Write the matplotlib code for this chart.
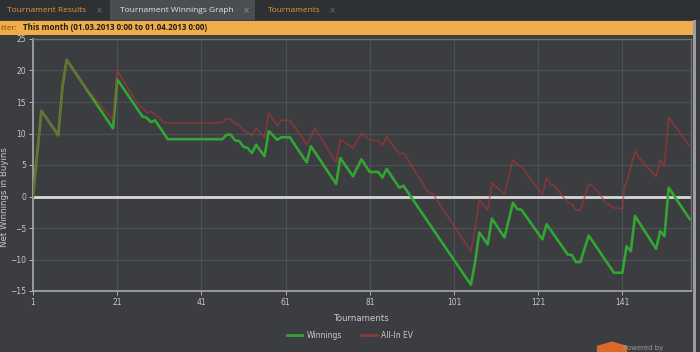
import matplotlib
matplotlib.use("Agg")
import matplotlib.pyplot as plt
from matplotlib.lines import Line2D
from matplotlib.patches import Rectangle, RegularPolygon

# vertices (tournament number, net buy-ins)
win_t = [1, 3, 7, 8, 9, 20, 21, 27, 28, 29, 30, 33, 46, 47, 48, 49, 50, 51, 52,
         53, 54, 56, 57, 59, 60, 62, 65, 66, 67, 73, 74, 77, 79, 81, 83, 84, 85,
         88, 89, 105, 106, 107, 109, 110, 113, 115, 116, 117, 122, 123, 128, 129,
         130, 131, 133, 139, 141, 142, 143, 144, 149, 150, 151, 152, 157]
win_v = [0, 13.6, 9.7, 17.5, 21.7, 10.8, 18.6, 12.7, 12.5, 11.8, 12.1, 9.1, 9.1,
         9.8, 9.8, 8.9, 8.8, 7.9, 7.7, 6.9, 8.2, 6.4, 10.4, 9.0, 9.4, 9.4, 6.4,
         5.4, 8.0, 2.0, 6.1, 3.2, 5.9, 3.9, 3.9, 3.0, 4.4, 1.4, 1.7, -14.0, -10.5,
         -5.7, -7.6, -3.5, -6.5, -1.0, -2.0, -2.1, -6.8, -4.4, -9.2, -9.3, -10.4,
         -10.4, -6.2, -12.1, -12.1, -7.9, -8.7, -3.1, -8.3, -5.5, -6.3, 1.4, -3.6]

ev_t = [1, 3, 7, 8, 9, 13, 20, 21, 26, 27, 28, 29, 30, 31, 32, 33, 46, 47, 48, 49,
        50, 51, 52, 53, 54, 56, 57, 59, 60, 62, 65, 66, 68, 73, 74, 77, 79, 81, 83,
        84, 85, 88, 89, 95, 96, 105, 106, 107, 109, 110, 113, 115, 116, 117, 122,
        123, 124, 125, 128, 129, 130, 131, 133, 134, 136, 137, 139, 141, 141.5, 142,
        144, 145, 149, 150, 151, 152, 157]
ev_v = [0, 13.6, 9.7, 17.5, 21.7, 17.7, 12.2, 20.0, 14.6, 14.1, 13.3, 13.5, 13.0,
        12.5, 11.8, 11.7, 11.7, 12.4, 12.3, 11.5, 11.4, 10.5, 10.2, 9.6, 10.9, 9.3,
        13.2, 11.3, 12.1, 12.1, 9.3, 8.2, 10.8, 5.4, 9.1, 7.7, 10.0, 9.0, 8.9, 8.1,
        9.5, 6.7, 6.9, 0.6, 0.4, -8.7, -5.2, -0.5, -2.2, 2.1, 0.4, 5.8, 5.1, 4.8,
        0.3, 3.0, 1.9, 1.6, -1.0, -1.2, -2.2, -2.2, 1.9, 1.7, 0.0, -1.0, -1.8, -1.95,
        1.6, 2.2, 7.2, 6.1, 3.1, 5.8, 4.8, 12.6, 8.0]

x_ticks = [1, 21, 41, 61, 81, 101, 121, 141]
y_ticks = [-15, -10, -5, 0, 5, 10, 15, 20, 25]

BG = "#3b3d41"
GREEN = "#33a532"
RED = "#b53434"
TEXT = "#c9c9c9"

fig = plt.figure(figsize=(7, 3.52), dpi=100, facecolor=BG)

# tab strip and filter bar
fig.patches.append(Rectangle((0, 1 - 20 / 352), 1, 20 / 352, transform=fig.transFigure,
                             facecolor="#2e3134", edgecolor="none", zorder=0))
fig.patches.append(Rectangle((110 / 700, 1 - 20 / 352), 145 / 700, 20 / 352,
                             transform=fig.transFigure, facecolor="#4a4d52",
                             edgecolor="none", zorder=0))
fig.patches.append(Rectangle((0, 1 - 35 / 352), 693 / 700, 14 / 352, transform=fig.transFigure,
                             facecolor="#f0ad4a", edgecolor="none", zorder=0))
fig.patches.append(Rectangle((693 / 700, 0), 3 / 700, 1 - 20 / 352, transform=fig.transFigure,
                             facecolor="#9a9c9f", edgecolor="none", zorder=0))

tab_y = 1 - 11 / 352
fig.text(7 / 700, tab_y, "Tournament Results", color="#e39a35", fontsize=6,
         family="Open Sans", va="center")
fig.text(96 / 700, tab_y, "×", color="#6c6f73", fontsize=6, va="center")
fig.text(120 / 700, tab_y, "Tournament Winnings Graph", color="#e6e6e6", fontsize=6,
         family="Open Sans", va="center")
fig.text(243 / 700, tab_y, "×", color="#8a8d91", fontsize=6, va="center")
fig.text(268 / 700, tab_y, "Tournaments", color="#e39a35", fontsize=6,
         family="Open Sans", va="center")
fig.text(329 / 700, tab_y, "×", color="#6c6f73", fontsize=6, va="center")

fb_y = 1 - 28 / 352
fig.text(0, fb_y, "ilter:", color="#7a4a10", fontsize=5.8, family="Open Sans",
         va="center")
fig.text(23 / 700, fb_y, "This month (01.03.2013 0:00 to 01.04.2013 0:00)", color="#1e1e1e",
         fontsize=5.8, family="Open Sans", weight="bold", va="center")

ax = fig.add_axes([33 / 700, 1 - 291 / 352, 658 / 700, 252 / 352])
ax.set_facecolor(BG)

ax.plot(win_t, win_v, color=GREEN, lw=1.9, zorder=3, label="Winnings")
ax.plot(ev_t, ev_v, color=RED, lw=1.2, alpha=0.6, zorder=4, label="All-In EV")
ax.axhline(0, color="#d8d8d8", lw=2, zorder=2)

ax.set_xlim(1, 157.3)
ax.set_ylim(-15, 25)
ax.set_xticks(x_ticks)
ax.set_yticks(y_ticks)
ax.grid(True, color="#4d5054", lw=0.8)
ax.set_axisbelow(True)
ax.tick_params(colors=TEXT, labelsize=5.5, length=3, width=0.6, pad=2)
for side in ["top", "right"]:
    ax.spines[side].set_color("#6d7074")
    ax.spines[side].set_linewidth(1)
for side in ["left", "bottom"]:
    ax.spines[side].set_color("#a7a9ab")
    ax.spines[side].set_linewidth(1.2)

ax.set_xlabel("Tournaments", color=TEXT, fontsize=6.2, labelpad=5)
fig.text(0.006, 1 - 197 / 352, "Net Winnings in Buyins", color=TEXT, fontsize=6.2,
         rotation=90, va="center", ha="center")

handles = [Line2D([], [], color=GREEN, lw=2),
           Line2D([], [], color="#8a3a3a", lw=2)]
fig.legend(handles, ["Winnings", "All-In EV"], loc="center",
           bbox_to_anchor=(350 / 700, 1 - 335 / 352), ncol=2, frameon=False,
           fontsize=5.5, labelcolor=TEXT, handlelength=2, columnspacing=2.5,
           handletextpad=0.6)

# "Powered by" badge in the bottom right
fig.patches.append(RegularPolygon((612 / 700, 0.005), 6, radius=0.025,
                                  transform=fig.transFigure, facecolor="#d9692c",
                                  edgecolor="none"))
fig.text(623 / 700, 1 - 348 / 352, "Powered by", color="#9a9a9a", fontsize=5,
         va="center")

fig.savefig("out.png", dpi=100, facecolor=BG)
